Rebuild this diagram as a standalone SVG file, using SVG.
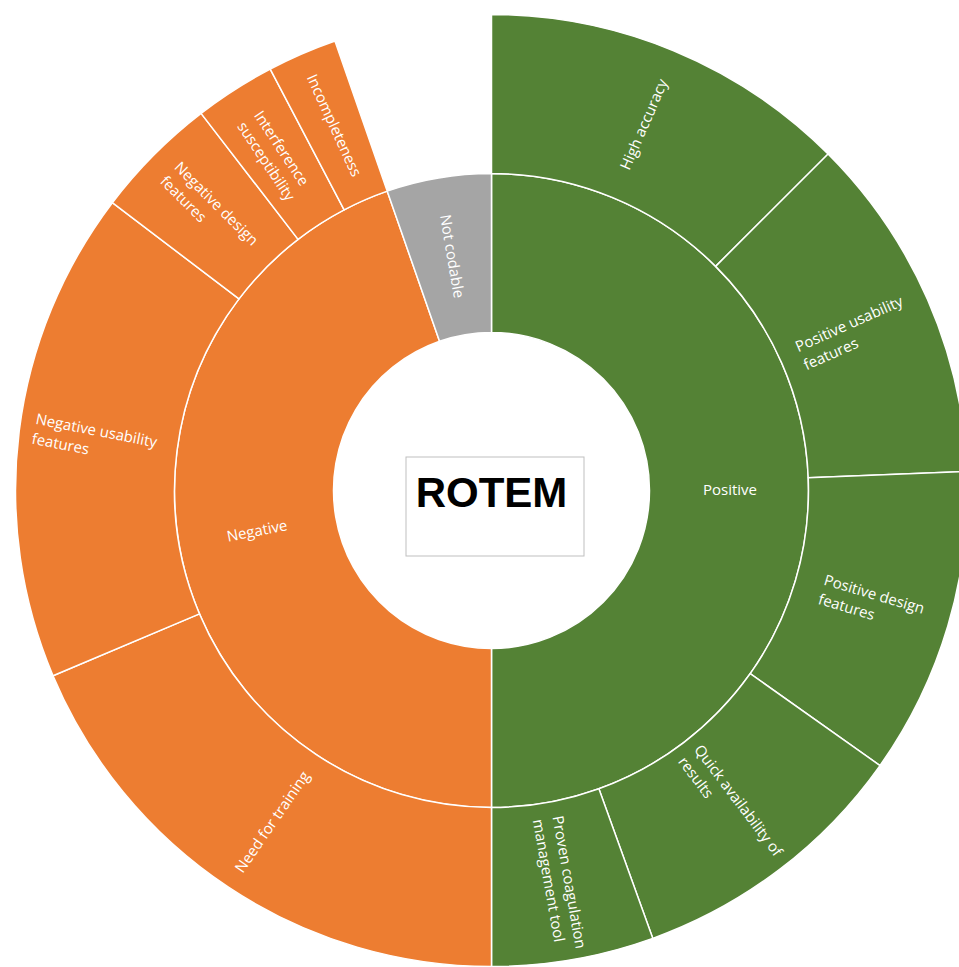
<svg xmlns="http://www.w3.org/2000/svg" width="959" height="967" viewBox="0 0 959 967">
<style>
.seg{stroke:#ffffff;stroke-width:1.5;stroke-linejoin:round}
.pos{fill:#548235}
.neg{fill:#ED7D31}
.nc{fill:#A5A5A5}
.lbl{font-family:"Open Sans","Liberation Sans",sans-serif;font-size:15px;fill:#ffffff}
.title{font-family:"Liberation Sans",Arial,sans-serif;font-size:42px;font-weight:bold;fill:#000000}
</style>
<rect width="959" height="967" fill="#ffffff"/>
<g id="positive">
<path class="seg pos" d="M491.5 173.5 A317 317 0 0 1 491.5 807.5 L491.5 648.5 A158 158 0 0 0 491.5 332.5 Z"/>
<text class="lbl" x="730" y="495" text-anchor="middle">Positive</text>
</g>
<g id="negative">
<path class="seg neg" d="M491.5 807.5 A317 317 0 0 1 387.25 191.13 L439.54 341.29 A158 158 0 0 0 491.5 648.5 Z"/>
<text class="lbl" transform="translate(257,531) rotate(-11)" x="0" y="5" text-anchor="middle">Negative</text>
</g>
<g id="not-codable">
<path class="seg nc" d="M387.25 191.13 A317 317 0 0 1 491.5 173.5 L491.5 332.5 A158 158 0 0 0 439.54 341.29 Z"/>
<text class="lbl" transform="translate(451.9,256.3) rotate(80.4)" x="0" y="5" text-anchor="middle">Not codable</text>
</g>
<g id="high-accuracy">
<path class="seg pos" d="M491.5 14.5 A476 476 0 0 1 828.08 153.92 L715.65 266.35 A317 317 0 0 0 491.5 173.5 Z"/>
<text class="lbl" transform="translate(644,124.5) rotate(-66.5)" x="0" y="5" text-anchor="middle">High accuracy</text>
</g>
<g id="positive-usability">
<path class="seg pos" d="M828.08 153.92 A476 476 0 0 1 967.11 471.4 L808.24 477.78 A317 317 0 0 0 715.65 266.35 Z"/>
<text class="lbl" transform="translate(854.7,331.4) rotate(-24)"><tspan x="-60" y="-4">Positive usability</tspan><tspan x="-60" y="16">features</tspan></text>
</g>
<g id="positive-design">
<path class="seg pos" d="M967.11 471.4 A476 476 0 0 1 879.98 765.56 L750.22 673.68 A317 317 0 0 0 808.24 477.78 Z"/>
<text class="lbl" transform="translate(871.7,603.1) rotate(16.5)"><tspan x="-52" y="-4">Positive design</tspan><tspan x="-52" y="16">features</tspan></text>
</g>
<g id="quick-availability">
<path class="seg pos" d="M879.98 765.56 A476 476 0 0 1 652.74 938.36 L598.88 788.76 A317 317 0 0 0 750.22 673.68 Z"/>
<text class="lbl" transform="translate(732.5,808) rotate(53)"><tspan x="-70" y="-4">Quick availability of</tspan><tspan x="-70" y="16">results</tspan></text>
</g>
<g id="proven-coagulation">
<path class="seg pos" d="M652.74 938.36 A476 476 0 0 1 491.5 966.5 L491.5 807.5 A317 317 0 0 0 598.88 788.76 Z"/>
<text class="lbl" transform="translate(560,882.5) rotate(80)"><tspan x="-66" y="-4">Proven coagulation</tspan><tspan x="-66" y="16">management tool</tspan></text>
</g>
<g id="need-for-training">
<path class="seg neg" d="M491.5 966.5 A476 476 0 0 1 53.01 675.72 L199.48 613.85 A317 317 0 0 0 491.5 807.5 Z"/>
<text class="lbl" transform="translate(272.4,822) rotate(-55.5)" x="0" y="5" text-anchor="middle">Need for training</text>
</g>
<g id="negative-usability">
<path class="seg neg" d="M53.01 675.72 A476 476 0 0 1 112.35 202.71 L239 298.84 A317 317 0 0 0 199.48 613.85 Z"/>
<text class="lbl" transform="translate(97,440) rotate(11)"><tspan x="-64" y="-4">Negative usability</tspan><tspan x="-64" y="16">features</tspan></text>
</g>
<g id="negative-design">
<path class="seg neg" d="M112.35 202.71 A476 476 0 0 1 201.07 113.37 L298.08 239.34 A317 317 0 0 0 239 298.84 Z"/>
<text class="lbl" transform="translate(210.2,210.5) rotate(45)"><tspan x="-56" y="-4">Negative design</tspan><tspan x="-56" y="16">features</tspan></text>
</g>
<g id="interference-susceptibility">
<path class="seg neg" d="M201.07 113.37 A476 476 0 0 1 270.24 69.05 L344.15 209.83 A317 317 0 0 0 298.08 239.34 Z"/>
<text class="lbl" transform="translate(276,156.6) rotate(56.5)"><tspan x="-47" y="-4">Interference</tspan><tspan x="-47" y="16">susceptibility</tspan></text>
</g>
<g id="incompleteness">
<path class="seg neg" d="M270.24 69.05 A476 476 0 0 1 334.96 40.98 L387.25 191.13 A317 317 0 0 0 344.15 209.83 Z"/>
<text class="lbl" transform="translate(334,125.5) rotate(65.5)" x="0" y="5" text-anchor="middle">Incompleteness</text>
</g>
<g id="center-rotem">
<rect x="406" y="457" width="178" height="99" fill="#ffffff" stroke="#BFBFBF" stroke-width="1"/>
<text class="title" x="491.5" y="507" text-anchor="middle">ROTEM</text>
</g>
</svg>
